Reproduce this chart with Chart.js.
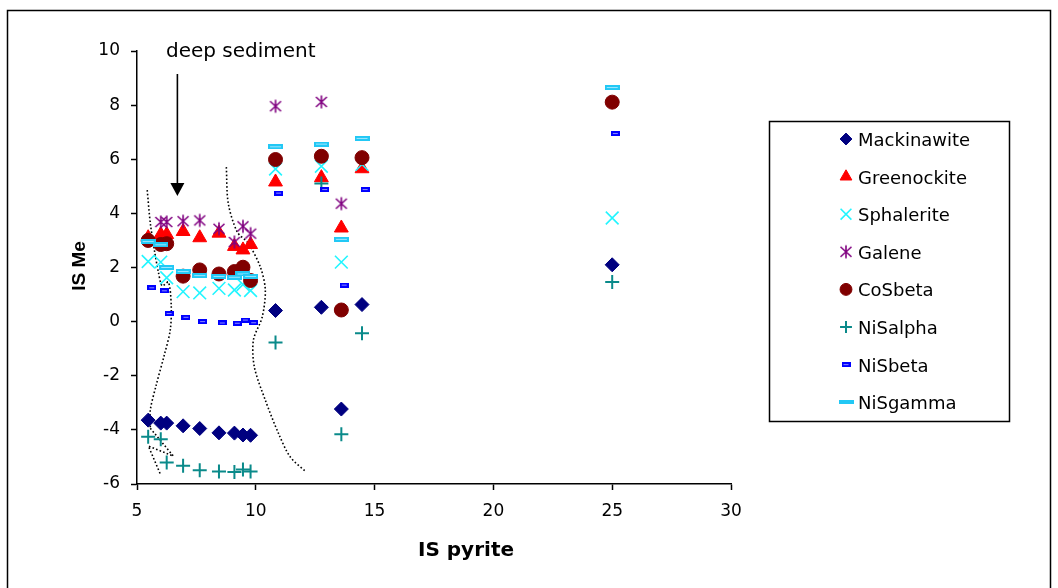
<!DOCTYPE html>
<html>
<head>
<meta charset="utf-8">
<script src="https://cdn.jsdelivr.net/npm/chart.js@4.4.1/dist/chart.umd.min.js"></script>
<style>
  html, body { margin: 0; padding: 0; background: #fff; }
</style>
</head>
<body>
<canvas id="isChart" width="1058" height="588"></canvas>
<script>
// IS pyrite (x) shared by most series
const isPyrite = [5.47, 6.0, 6.25, 6.94, 7.64, 8.45, 9.1, 9.46, 9.78, 10.83, 12.76, 13.6, 14.47, 25.0];
// NiSbeta markers sit slightly to the right
const isPyriteNiSbeta = [5.62, 6.15, 6.35, 7.06, 7.76, 8.59, 9.22, 9.56, 9.91, 10.96, 12.9, 13.72, 14.6, 25.13];

// IS Me values (null = no point)
const mackinawite = [-3.64, -3.75, -3.75, -3.85, -3.95, -4.11, -4.12, -4.19, -4.2, 0.41, 0.53, -3.23, 0.63, 2.1];
const greenockite = [3.1, 3.22, 3.22, 3.33, 3.1, 3.27, 2.78, 2.65, 2.85, 5.16, 5.32, 3.46, 5.65, null];
const sphalerite  = [2.22, 2.2, 1.62, 1.11, 1.06, 1.23, 1.17, 1.37, 1.15, 5.64, 5.74, 2.2, 5.81, 3.83];
const galene      = [null, 3.68, 3.68, 3.71, 3.74, 3.43, 2.94, 3.52, 3.25, 7.96, 8.12, 4.36, null, null];
const cosbeta     = [3.0, 2.85, 2.88, 1.68, 1.91, 1.76, 1.85, 2.01, 1.52, 5.99, 6.11, 0.43, 6.06, 8.11];
const nisalpha    = [-4.25, -4.35, -5.21, -5.33, -5.49, -5.54, -5.56, -5.46, -5.54, -0.77, 5.1, -4.16, -0.43, 1.46];
const nisbeta     = [1.25, 1.14, 0.3, 0.16, 0.0, -0.05, -0.06, 0.06, -0.04, 4.75, 4.88, 1.35, 4.88, 6.95];
const nisgamma    = [2.96, 2.84, 2.0, 1.85, 1.7, 1.67, 1.64, 1.76, 1.67, 6.46, 6.56, 3.04, 6.77, 8.65];

// hand drawn dotted outlines (data units)
const leftCurveX  = [5.43, 5.56, 5.73, 5.90, 6.06, 6.32, 6.44, 6.40, 6.15, 5.81, 5.56, 5.56];
const leftCurveY  = [4.86, 3.64, 2.65, 1.83, 1.32, 1.46, 0.61, -0.31, -1.23, -2.34, -3.27, -3.94];
const loopX = [5.56, 6.53, 5.48, 5.98];
const loopY = [-3.94, -4.97, -4.60, -5.63];
const rightCurveX = [8.76, 8.84, 9.22, 9.68, 10.19, 10.40, 10.27, 9.90, 9.94, 10.40, 10.95, 11.45, 12.12];
const rightCurveY = [5.71, 4.38, 3.31, 2.90, 2.02, 1.17, 0.17, -0.68, -1.68, -2.90, -4.12, -5.00, -5.56];

// annotation: arrow at x = 6.7
const arrowX = 6.7, arrowTop = 9.15, arrowBase = 5.12, arrowTip = 4.64;

function pts(xs, ys) {
    return xs.map((x, i) => ({ x: x, y: ys[i] })).filter(p => p.y !== null);
}

// custom marker images
function makeAsterisk(color) {
    const c = document.createElement('canvas');
    c.width = 16; c.height = 16;
    const g = c.getContext('2d');
    g.strokeStyle = color;
    g.lineWidth = 1.6;
    g.beginPath();
    g.moveTo(8, 1.5); g.lineTo(8, 14.5);
    g.moveTo(2.5, 3); g.lineTo(13.5, 13);
    g.moveTo(13.5, 3); g.lineTo(2.5, 13);
    g.stroke();
    return c;
}
function makeBar(w, h, edge, inner) {
    const c = document.createElement('canvas');
    c.width = w; c.height = h;
    const g = c.getContext('2d');
    g.fillStyle = edge;
    g.fillRect(0, 0, w, h);
    g.fillStyle = inner;
    g.fillRect(2, 2, w - 4, h - 4);
    return c;
}

const series = [
    { label: 'Mackinawite', x: isPyrite, y: mackinawite, style: 'rectRot', radius: 7, color: '#000080', bw: 1 },
    { label: 'Greenockite', x: isPyrite, y: greenockite, style: 'triangle', radius: 8, color: '#ff0000', bw: 1 },
    { label: 'Sphalerite', x: isPyrite, y: sphalerite, style: 'crossRot', radius: 9, color: '#22f5ff', bw: 1.6 },
    { label: 'Galene', x: isPyrite, y: galene, style: makeAsterisk('#800080'), radius: 8, color: '#800080', bw: 1 },
    { label: 'CoSbeta', x: isPyrite, y: cosbeta, style: 'circle', radius: 7, color: '#800000', bw: 1 },
    { label: 'NiSalpha', x: isPyrite, y: nisalpha, style: 'cross', radius: 7, color: '#0a8a8a', bw: 2 },
    { label: 'NiSbeta', x: isPyriteNiSbeta, y: nisbeta, style: makeBar(9, 5, '#0000ff', '#8c8cff'), radius: 5, color: '#0000ff', bw: 1 },
    { label: 'NiSgamma', x: isPyrite, y: nisgamma, style: makeBar(15, 5, '#22c8f5', '#9fe6ff'), radius: 7, color: '#22c8f5', bw: 1,
      legendStyle: makeBar(15, 4, '#22c8f5', '#22c8f5') }
];

const datasets = series.map((s, i) => ({
    label: s.label,
    data: pts(s.x, s.y),
    pointStyle: s.style,
    pointRadius: s.radius,
    pointBackgroundColor: s.color,
    pointBorderColor: s.color,
    pointBorderWidth: s.bw,
    showLine: false,
    order: 10 - i
}));

// dotted outlines drawn as lines under the markers
[[leftCurveX, leftCurveY, 0.3], [loopX, loopY, 0], [rightCurveX, rightCurveY, 0.3]].forEach(c => {
    datasets.push({
        label: '',
        data: pts(c[0], c[1]),
        showLine: true,
        pointRadius: 0,
        borderColor: '#000',
        borderWidth: 1.6,
        borderDash: [1.6, 2.2],
        tension: c[2],
        order: 20
    });
});

const decorPlugin = {
    id: 'decor',
    beforeDraw(chart) {
        const ctx = chart.ctx;
        ctx.save();
        ctx.fillStyle = '#fff';
        ctx.fillRect(0, 0, chart.width, chart.height);
        ctx.strokeStyle = '#000';
        ctx.lineWidth = 1.5;
        ctx.strokeRect(7.5, 10.5, 1043, 600);
        ctx.restore();
    },
    afterDraw(chart) {
        const ctx = chart.ctx;
        const xs = chart.scales.x, ys = chart.scales.y;
        ctx.save();
        ctx.fillStyle = '#000';
        ctx.strokeStyle = '#000';

        // axis titles
        ctx.font = 'bold 20px "DejaVu Sans"';
        ctx.textAlign = 'center';
        ctx.textBaseline = 'alphabetic';
        ctx.fillText('IS pyrite', 466, 556);
        ctx.save();
        ctx.translate(85, 266);
        ctx.rotate(-Math.PI / 2);
        ctx.font = 'bold 19px "Liberation Sans"';
        ctx.fillText('IS Me', 0, 0);
        ctx.restore();

        // deep sediment arrow
        const ax = xs.getPixelForValue(arrowX);
        ctx.lineWidth = 1.6;
        ctx.beginPath();
        ctx.moveTo(ax, ys.getPixelForValue(arrowTop));
        ctx.lineTo(ax, ys.getPixelForValue(arrowBase));
        ctx.stroke();
        ctx.beginPath();
        ctx.moveTo(ax - 7, ys.getPixelForValue(arrowBase));
        ctx.lineTo(ax + 7, ys.getPixelForValue(arrowBase));
        ctx.lineTo(ax, ys.getPixelForValue(arrowTip));
        ctx.closePath();
        ctx.fill();
        ctx.font = '20px "DejaVu Sans"';
        ctx.textAlign = 'left';
        ctx.fillText('deep sediment', 166, 57);

        // legend box
        ctx.lineWidth = 1.5;
        ctx.strokeRect(769.5, 121.5, 240, 300);
        ctx.font = '18px "DejaVu Sans"';
        series.forEach((s, i) => {
            const base = 146 + i * 37.6;
            ctx.fillStyle = '#000';
            ctx.fillText(s.label, 858, base);
            ctx.fillStyle = s.color;
            ctx.strokeStyle = s.color;
            ctx.lineWidth = s.bw;
            Chart.helpers.drawPoint(ctx, {
                pointStyle: s.legendStyle || s.style, radius: s.radius * 0.85, borderWidth: s.bw, rotation: 0
            }, 846, base - 7);
        });
        ctx.restore();
    }
};

const config = {
    type: 'scatter',
    data: { datasets: datasets },
    options: {
        responsive: false,
        animation: false,
        events: [],
        layout: { padding: { left: 0, top: 51, right: 327, bottom: 0 } },
        scales: {
            x: {
                type: 'linear',
                min: 5,
                max: 30,
                afterFit: s => { s.height = 104; },
                ticks: {
                    stepSize: 5,
                    color: '#000',
                    padding: 11,
                    font: { family: '"DejaVu Sans"', size: 17 }
                },
                grid: { drawOnChartArea: false, color: '#000', tickLength: 6, tickWidth: 1.5 },
                border: { color: '#000', width: 1.5 }
            },
            y: {
                type: 'linear',
                min: -6,
                max: 10,
                afterFit: s => { s.width = 137; },
                ticks: {
                    stepSize: 2,
                    color: '#000',
                    padding: 11,
                    font: { family: '"DejaVu Sans"', size: 17 }
                },
                grid: { drawOnChartArea: false, color: '#000', tickLength: 6, tickWidth: 1.5 },
                border: { color: '#000', width: 1.5 }
            }
        },
        plugins: {
            legend: { display: false },
            tooltip: { enabled: false }
        }
    },
    plugins: [decorPlugin]
};

const isChart = new Chart(document.getElementById('isChart'), config);
</script>
</body>
</html>
